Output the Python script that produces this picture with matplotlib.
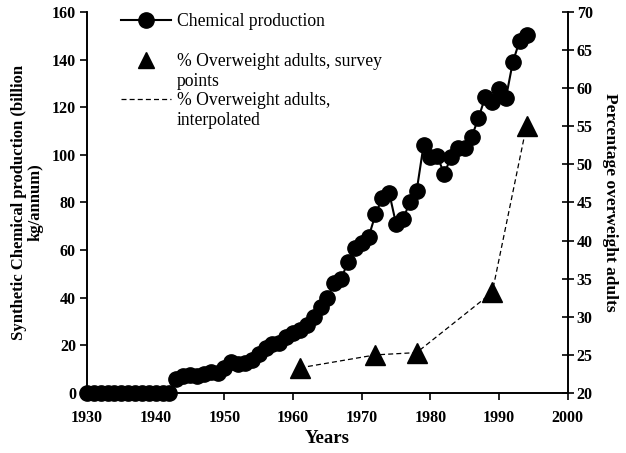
import numpy as np
import matplotlib.pyplot as plt
from matplotlib.lines import Line2D

# chemical production, billion kg/annum
years = list(range(1930, 1995))
production = [0] * 13 + [
    6, 7, 7.5, 7, 8, 9, 8.5, 10.5, 13, 12,
    12.5, 14, 16.5, 19, 20.5, 21, 23.5, 25, 26.5, 28.5,
    32, 36, 40, 46, 48, 55, 61, 63, 65.5, 75,
    82, 84, 71, 73, 80, 85, 104, 99, 99.5, 92,
    99, 103, 103, 107.5, 115.5, 124.5, 122, 127.5, 124, 139,
    148, 150.5,
]

# % overweight adults survey points
survey_years = [1961, 1972, 1978, 1989, 1994]
survey_pct = [23.3, 25.0, 25.3, 33.2, 55.1]

plt.rcParams['font.family'] = ['Liberation Serif', 'DejaVu Serif']

fig = plt.figure(figsize=(6.26, 4.53), dpi=100)
ax = fig.add_axes([0.139, 0.1325, 0.768, 0.841])
ax2 = ax.twinx()

ax.plot(years, production, color='black', lw=1.5, marker='o', ms=11,
        clip_on=False, zorder=3)
ax2.plot(survey_years, survey_pct, color='black', lw=0.9, ls=(0, (4, 2.5)))
ax2.plot(survey_years, survey_pct, color='black', ls='none', marker='^',
         ms=14, clip_on=False)

ax.set_xlim(1930, 2000)
ax.set_ylim(0, 160)
ax2.set_ylim(20, 70)
ax.set_xticks(np.arange(1930, 2001, 10))
ax.set_yticks(np.arange(0, 161, 20))
ax2.set_yticks(np.arange(20, 71, 5))

for a in (ax, ax2):
    a.spines['top'].set_visible(False)
    for s in a.spines.values():
        s.set_linewidth(1.2)
    for lab in a.get_xticklabels() + a.get_yticklabels():
        lab.set_fontweight('bold')
        lab.set_fontsize(11.5)
ax.tick_params(axis='y', direction='out', length=5, width=1.2, pad=3)
ax.tick_params(axis='x', direction='out', length=5, width=1.2, pad=7)
ax2.tick_params(axis='y', direction='inout', length=9, width=1.2, pad=2)

ax.set_xlabel('Years', fontsize=13.5, fontweight='bold', labelpad=3)
ax.set_ylabel('Synthetic Chemical production (billion\nkg/annum)',
              fontsize=12, fontweight='bold', labelpad=6, linespacing=1.0)
ax2.set_ylabel('Percentage overweight adults', fontsize=12.5,
               fontweight='bold', rotation=270, labelpad=18)

blank = Line2D([], [], ls='none')
handles = [
    Line2D([], [], color='black', lw=1.5, marker='o', ms=11),
    blank,
    Line2D([], [], color='black', ls='none', marker='^', ms=11),
    blank,
    Line2D([], [], color='black', lw=0.9, ls=(0, (4, 2.5))),
    blank,
]
labels = ['Chemical production', ' ',
          '% Overweight adults, survey', 'points',
          '% Overweight adults,', 'interpolated']
ax.legend(handles, labels, loc='upper left', bbox_to_anchor=(0.071, 0.997),
          frameon=False, fontsize=12.7, handlelength=2.85, handletextpad=0.3,
          labelspacing=0.16, numpoints=1, borderpad=0, borderaxespad=0)

fig.savefig('out.png', dpi=100)
